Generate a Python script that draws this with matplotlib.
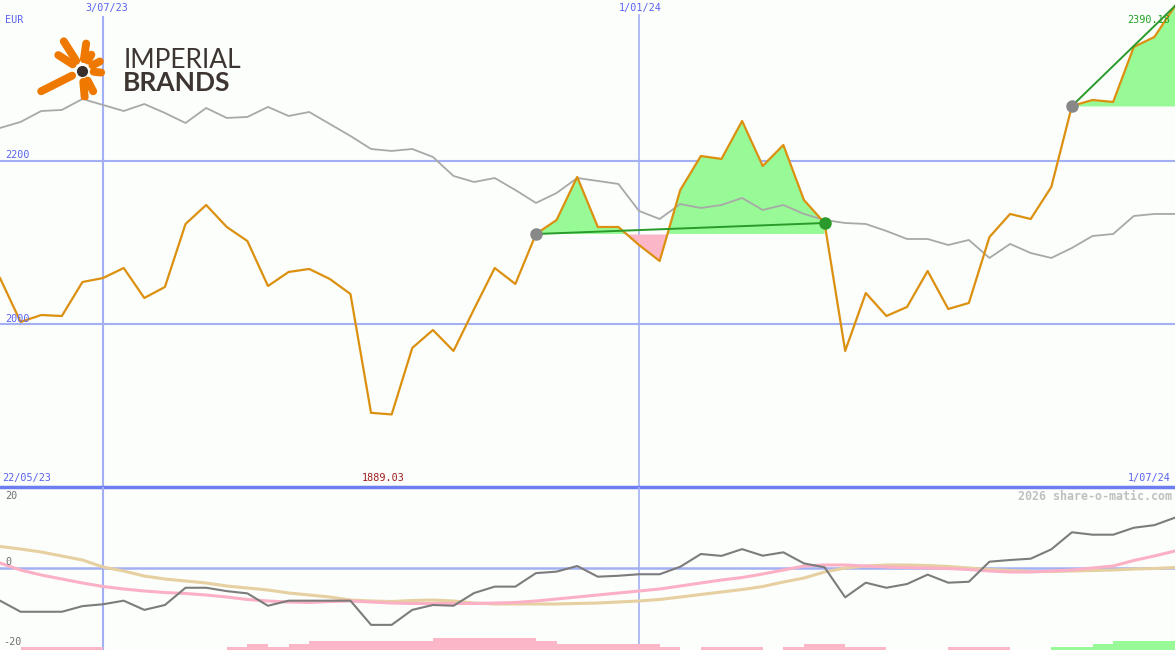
import numpy as np
import matplotlib
matplotlib.use('Agg')
import matplotlib.pyplot as plt

# weekly closes (EUR), 58 weeks
price = [2056.4, 2002.5, 2011.0, 2009.8, 2051.5, 2056.4, 2068.7, 2031.9, 2045.4, 2122.7,
         2146.0, 2119.0, 2101.8, 2046.6, 2063.8, 2067.5, 2055.2, 2036.8, 1891.0, 1889.03,
         1970.6, 1992.6, 1966.9, 2018.4, 2068.7, 2049.1, 2110.4, 2127.6, 2180.4, 2119.0,
         2119.0, 2096.9, 2077.3, 2164.4, 2206.1, 2202.5, 2249.1, 2193.9, 2219.6, 2152.1,
         2123.9, 1966.9, 2038.0, 2009.8, 2020.9, 2065.0, 2018.4, 2025.8, 2106.7, 2135.0,
         2128.8, 2168.1, 2267.5, 2274.8, 2272.4, 2339.9, 2352.1, 2390.18]
# relative index line, scaled to price
index_line = [2240.5, 2247.9, 2261.3, 2262.6, 2276.1, 2268.7, 2261.3, 2269.9, 2258.9, 2246.6,
              2265.0, 2252.8, 2254.0, 2266.3, 2255.2, 2260.1, 2245.4, 2230.7, 2214.7, 2212.3,
              2214.7, 2204.9, 2181.6, 2174.2, 2179.1, 2164.4, 2148.5, 2160.7, 2179.1, 2175.5,
              2171.8, 2138.7, 2128.8, 2147.2, 2142.3, 2146.0, 2154.6, 2139.9, 2146.0, 2135.0,
              2127.6, 2123.9, 2122.7, 2114.1, 2104.3, 2104.3, 2096.9, 2103.1, 2081.0, 2098.2,
              2087.1, 2081.0, 2093.3, 2108.0, 2110.4, 2132.5, 2135.0, 2135.0]
# trades: (entry week, exit week)
trades = [(26, 40), (52, 57)]

# lower panel
momentum = [-8.85, -11.8, -11.8, -11.8, -10.3, -9.8, -8.85, -11.3, -10.0, -5.4,
            -5.4, -6.3, -6.9, -10.2, -8.85, -8.85, -8.85, -8.85, -15.3, -15.3,
            -11.3, -10.0, -10.2, -6.8, -5.1, -5.1, -1.5, -1.1, 0.4, -2.45,
            -2.2, -1.8, -1.8, 0.2, 3.6, 3.1, 4.9, 3.15, 4.05, 1.1,
            0.05, -7.95, -4.05, -5.4, -4.4, -1.9, -4.05, -3.8, 1.55, 2.0,
            2.35, 4.85, 9.4, 8.75, 8.75, 10.6, 11.3, 13.3]
ma_pink = [1.2, -0.67, -2.0, -3.07, -4.13, -5.07, -5.73, -6.27, -6.67, -6.93,
           -7.33, -7.87, -8.53, -8.93, -9.2, -9.33, -9.07, -8.93, -9.2, -9.47,
           -9.6, -9.6, -9.6, -9.6, -9.47, -9.33, -8.93, -8.4, -7.87, -7.33,
           -6.8, -6.27, -5.73, -4.93, -4.13, -3.33, -2.67, -1.73, -0.67, 0.4,
           0.67, 0.67, 0.4, 0.13, 0.0, -0.13, -0.27, -0.53, -0.93, -1.2,
           -1.2, -0.93, -0.67, -0.13, 0.4, 1.87, 3.07, 4.4]
ma_tan = [5.6, 4.93, 4.13, 3.07, 2.0, 0.13, -0.93, -2.27, -3.07, -3.6,
          -4.13, -4.93, -5.47, -6.0, -6.8, -7.33, -7.87, -8.67, -8.93, -9.07,
          -8.8, -8.67, -8.93, -9.47, -9.73, -9.73, -9.73, -9.73, -9.6, -9.47,
          -9.2, -8.93, -8.53, -7.87, -7.2, -6.53, -5.87, -5.07, -3.87, -2.8,
          -1.2, -0.13, 0.4, 0.67, 0.67, 0.53, 0.27, -0.13, -0.53, -0.8,
          -1.07, -1.07, -0.93, -0.8, -0.67, -0.4, -0.27, 0.0]
# strength bars (negative = pink, positive = green), one per week
strength = [0, -1, -1, -1, -1, 0, 0, 0, 0, 0,
            0, -1, -2, -1, -2, -3, -3, -3, -3, -3,
            -3, -4, -4, -4, -4, -4, -3, -2, -2, -2,
            -2, -2, -1, 0, -1, -1, -1, 0, -1, -2,
            -2, -1, -1, 0, 0, 0, -1, -1, -1, 0,
            0, 1, 1, 2, 3, 3, 3]

bg = '#fbfefb'
grid = '#a4b0f4'
blue_txt = '#5a62f2'
W, H = 1175, 650

fig = plt.figure(figsize=(11.75, 6.5), dpi=100, facecolor=bg)

def px(x, y):
    return x / W, 1 - y / H

mono = 'DejaVu Sans Mono'
weeks = np.arange(len(price))
price_a = np.array(price)

# --- top panel ---
ax = fig.add_axes([0, 163 / H, 1, 487 / H], facecolor=bg)
ax.set_xlim(0, 57)
ax.set_ylim(1800, 2397.5)
ax.axis('off')
ax.patch.set_visible(True)

ax.axhline(2200, color=grid, lw=1.5, zorder=1)
ax.axhline(2000, color=grid, lw=1.5, zorder=1)
ax.axvline(5, ymax=(487 - 17) / 487, color=grid, lw=1.5, zorder=1)
ax.axvline(31, ymax=(487 - 15) / 487, color=grid, lw=1.2, zorder=1)
ax.axhline(1800, color='#6c7ef0', lw=2.5, zorder=5, clip_on=False)

for a, b in trades:
    xs = weeks[a:b + 1]
    ys = price_a[a:b + 1]
    base = price[a]
    ax.fill_between(xs, ys, base, where=ys >= base, interpolate=True,
                    color='#98fa96', lw=0, zorder=2)
    ax.fill_between(xs, ys, base, where=ys < base, interpolate=True,
                    color='#fbb6c8', lw=0, zorder=2)

ax.plot(weeks, index_line, color='#a8a8a8', lw=1.3, zorder=3)
ax.plot(weeks, price, color='#dc9010', lw=1.6, zorder=4)
for a, b in trades:
    ax.plot([a, b], [price[a], price[b]], color='#2a9a2a', lw=1.4, zorder=5)
    ax.plot(a, price[a], 'o', color='#888888', ms=8, zorder=6)
ax.plot(40, price[40], 'o', color='#2a9a2a', ms=8, zorder=6)

# --- bottom panel ---
ax2 = fig.add_axes([0, 0, 1, 163 / H], facecolor=bg)
ax2.set_xlim(0, 57)
ax2.set_ylim(-22, 21.47)
ax2.axis('off')
ax2.patch.set_visible(True)
ax2.axhline(0, color=grid, lw=1.8, zorder=1)
ax2.axvline(5, color=grid, lw=1.5, zorder=1)
ax2.axvline(31, color=grid, lw=1.2, zorder=1)

lv = np.array(strength)
bar_cols = ['#98fa96' if v > 0 else '#fbb6c8' for v in lv]
ax2.bar(np.arange(len(lv)), np.abs(lv) * 0.8, bottom=-22, width=1, align='edge',
        color=bar_cols, lw=0, zorder=2)
ax2.plot(weeks, ma_tan, color='#e6cfa0', lw=2.2, zorder=3)
ax2.plot(weeks, ma_pink, color='#fbb0c6', lw=2.2, zorder=3)
ax2.plot(weeks, momentum, color='#7c7c7c', lw=1.5, zorder=4)

# --- labels ---
fs = 7.3
fig.text(*px(5, 20), 'EUR', color=blue_txt, fontsize=fs, family=mono, va='center')
fig.text(*px(107, 8), '3/07/23', color=blue_txt, fontsize=fs, family=mono, va='center', ha='center')
fig.text(*px(640, 8), '1/01/24', color=blue_txt, fontsize=fs, family=mono, va='center', ha='center')
fig.text(*px(5, 155), '2200', color=blue_txt, fontsize=fs, family=mono, va='center')
fig.text(*px(5, 319), '2000', color=blue_txt, fontsize=fs, family=mono, va='center')
fig.text(*px(1170, 20), '2390.18', color='#22a022', fontsize=fs, family=mono, va='center', ha='right')
fig.text(*px(2, 478), '22/05/23', color=blue_txt, fontsize=fs, family=mono, va='center')
fig.text(*px(383, 478), '1889.03', color='#a01c1c', fontsize=fs, family=mono, va='center', ha='center')
fig.text(*px(1171, 478), '1/07/24', color=blue_txt, fontsize=fs, family=mono, va='center', ha='right')
fig.text(*px(1172, 496), '2026 share-o-matic.com', color='#c0c0c0', fontsize=8.4, family=mono,
         weight='bold', va='center', ha='right')
fig.text(*px(5, 496), '20', color='#707070', fontsize=fs, family=mono, va='center')
fig.text(*px(5, 562), '0', color='#707070', fontsize=fs, family=mono, va='center')
fig.text(*px(3, 642), '-20', color='#707070', fontsize=fs, family=mono, va='center')

# --- logo ---
lg = fig.add_axes([30 / W, 1 - 100 / H, 210 / W, 68 / H], facecolor=bg)
lg.set_xlim(30, 240)
lg.set_ylim(100, 32)
lg.axis('off')
lg.patch.set_visible(True)
cx, cy = 82.3, 70.5
tips = [(61.7, 38.0), (86.7, 39.7), (93.3, 51.3), (103.3, 59.7), (105.0, 73.0),
        (95.0, 94.7), (85.0, 101.0), (37.7, 93.0), (55.0, 53.0)]
cap = 3.9
for tx, ty in tips:
    d = np.array([tx - cx, ty - cy])
    d = d / np.hypot(*d)
    x0, y0 = cx + d[0] * (7.5 + cap), cy + d[1] * (7.5 + cap)
    x1, y1 = tx - d[0] * cap, ty - d[1] * cap
    lg.plot([x0, x1], [y0, y1], color='#ef7800', lw=5.7, solid_capstyle='round')
lg.plot(cx, cy, 'o', color='#3a2f2a', ms=7)
lg.text(124, 60, 'IMPERIAL', color='#3d3532', fontsize=19, family='Lato',
        weight='normal', va='center', ha='left')
lg.text(123, 83, 'BRANDS', color='#3d3532', fontsize=19, family='Lato',
        weight='bold', va='center', ha='left')

fig.savefig('out.png', dpi=100, facecolor=bg)
